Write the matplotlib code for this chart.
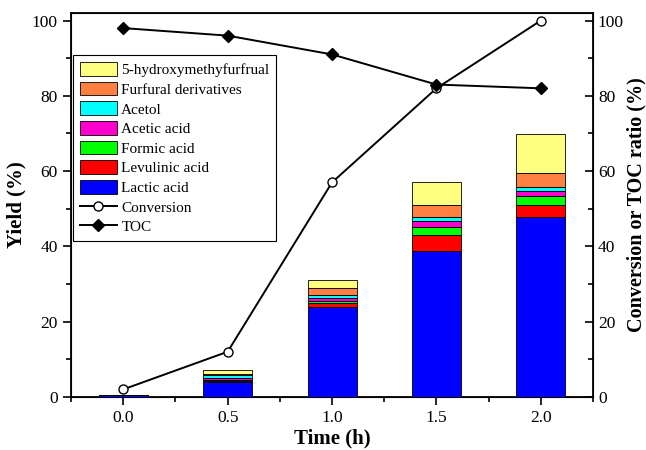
import numpy as np
import matplotlib
matplotlib.use("Agg")
import matplotlib.pyplot as plt
from matplotlib.ticker import MultipleLocator

plt.rcParams['font.family'] = ['Liberation Serif', 'DejaVu Serif']

time = [0.0, 0.5, 1.0, 1.5, 2.0]

# stacked yields (%) bottom -> top
lactic = [0.4, 4.0, 24.0, 38.9, 47.7]
levulinic = [0.0, 0.2, 0.9, 4.0, 3.2]
formic = [0.0, 0.2, 0.7, 2.2, 2.5]
acetic = [0.0, 0.5, 0.7, 1.6, 1.4]
acetol = [0.0, 0.8, 0.7, 1.2, 1.1]
furfural = [0.0, 0.4, 2.0, 3.2, 3.7]
hmf = [0.0, 1.0, 2.0, 5.9, 10.3]

conversion = [2, 12, 57, 82, 100]
toc = [98, 96, 91, 83, 82]

series = [
    ("Lactic acid", lactic, "#0000FF"),
    ("Levulinic acid", levulinic, "#FF0000"),
    ("Formic acid", formic, "#00FF00"),
    ("Acetic acid", acetic, "#FF00CC"),
    ("Acetol", acetol, "#00FFFF"),
    ("Furfural derivatives", furfural, "#FF8040"),
    ("5-hydroxymethyfurfrual", hmf, "#FFFF80"),
]

fig = plt.figure(figsize=(6.46, 4.5), dpi=100, facecolor="w")
ax = fig.add_axes([0.110, 0.118, 0.808, 0.853])

bottom = np.zeros(len(time))
bars = []
for name, vals, col in series:
    b = ax.bar(time, vals, width=0.235, bottom=bottom, color=col,
               edgecolor='k', linewidth=0.6, label=name, zorder=3)
    bars.append(b)
    bottom += np.array(vals)

ax.set_xlim(-0.25, 2.25)
ax.set_ylim(0, 102)
ax.xaxis.set_major_locator(MultipleLocator(0.5))
ax.xaxis.set_minor_locator(MultipleLocator(0.25))
ax.yaxis.set_major_locator(MultipleLocator(20))
ax.yaxis.set_minor_locator(MultipleLocator(10))
ax.tick_params(which='both', direction='out', top=False, right=False,
               labelsize=12.5, width=1.2)
ax.tick_params(which='major', length=6)
ax.tick_params(which='minor', length=3.5)
ax.xaxis.set_major_formatter(plt.FormatStrFormatter('%.1f'))
ax.set_xlabel("Time (h)", fontsize=15, fontweight='bold', labelpad=2)
ax.set_ylabel("Yield (%)", fontsize=15, fontweight='bold', labelpad=4)
for s in ax.spines.values():
    s.set_linewidth(1.3)

ax2 = ax.twinx()
ax2.set_ylim(0, 102)
l1, = ax2.plot(time, conversion, '-o', color='k', mfc='w', mec='k',
               ms=6.5, lw=1.4, label="Conversion", zorder=5)
l2, = ax2.plot(time, toc, '-D', color='k', ms=6, lw=1.4, label="TOC",
               zorder=5)
ax2.yaxis.set_major_locator(MultipleLocator(20))
ax2.yaxis.set_minor_locator(MultipleLocator(10))
ax2.tick_params(which='both', direction='in', labelsize=12.5, width=1.2)
ax2.tick_params(which='major', length=6)
ax2.tick_params(which='minor', length=3.5)
ax2.set_ylabel("Conversion or TOC ratio (%)", fontsize=14.5,
               fontweight='bold', labelpad=2)

handles = [b for b in bars[::-1]] + [l1, l2]
labels = [s[0] for s in series[::-1]] + ["Conversion", "TOC"]
leg = ax2.legend(handles, labels, loc='upper left',
                 bbox_to_anchor=(0.004, 0.89), borderaxespad=0,
                 fontsize=11, fancybox=False, edgecolor='k',
                 shadow=False, handlelength=2.4, handleheight=1.0,
                 labelspacing=0.3, handletextpad=0.3, borderpad=0.45,
                 framealpha=1)
leg.get_frame().set_linewidth(0.8)

fig.savefig("out.png", dpi=100)
